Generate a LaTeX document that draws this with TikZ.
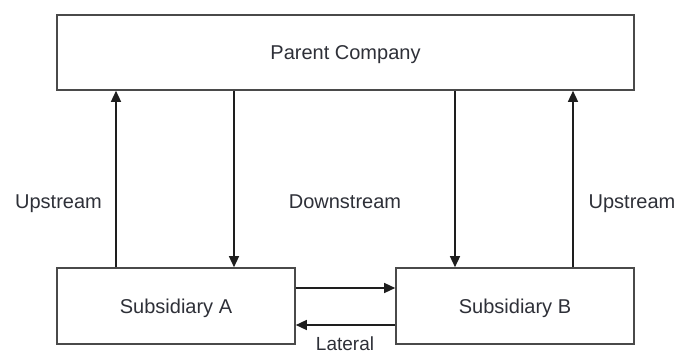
\documentclass[tikz,border=0pt]{standalone}
\usepackage{fontspec}
\setmainfont{Liberation Sans}
\usetikzlibrary{arrows.meta}
\definecolor{boxline}{HTML}{4A4A4A}
\definecolor{arrline}{HTML}{1E1E1E}
\definecolor{txt}{HTML}{2E3038}
\begin{document}
\begin{tikzpicture}[x=1pt,y=-1pt,
  company/.style={draw=boxline,line width=1.6pt,fill=white,inner sep=0pt,
    text height=14pt,text depth=0pt,text=txt,font=\fontsize{20}{24}\selectfont},
  flow/.style={draw=arrline,line width=1.4pt,-{Triangle[length=11pt,width=10pt]}},
  lbl/.style={text=txt,font=\fontsize{20}{24}\selectfont,anchor=base,inner sep=0pt}]
\useasboundingbox (0,0) rectangle (678,356);
\node[company,minimum width=577pt,minimum height=75pt] (parent) at (345.5,52.5) {Parent Company};
\node[company,minimum width=238pt,minimum height=76pt] (subA) at (176,306) {Subsidiary A};
\node[company,minimum width=238pt,minimum height=76pt] (subB) at (515,306) {Subsidiary B};
\coordinate (xa) at (116,0);
\coordinate (xb) at (234,0);
\coordinate (xc) at (455,0);
\coordinate (xd) at (573,0);
\coordinate (ya) at (0,288);
\coordinate (yb) at (0,325);
\draw[flow] (subA.north -| xa) -- (parent.south -| xa);
\draw[flow] (parent.south -| xb) -- (subA.north -| xb);
\draw[flow] (parent.south -| xc) -- (subB.north -| xc);
\draw[flow] (subB.north -| xd) -- (parent.south -| xd);
\draw[flow] (subA.east |- ya) -- (subB.west |- ya);
\draw[flow] (subB.west |- yb) -- (subA.east |- yb);
\node[lbl] (up1) at (58.5,208) {Upstream};
\node[lbl] (down) at (345,208) {Downstream};
\node[lbl] (up2) at (632,208) {Upstream};
\node[lbl,font=\fontsize{19}{22}\selectfont] (lat) at (345,350) {Lateral};
\end{tikzpicture}
\end{document}
